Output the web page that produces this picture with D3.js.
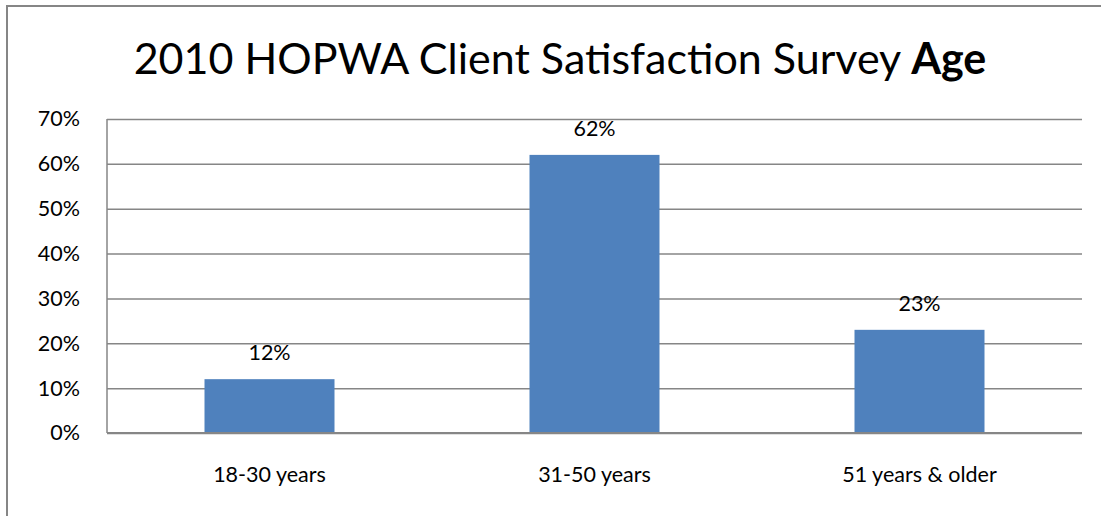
<!DOCTYPE html>
<html><head><meta charset="utf-8">
<script src="https://cdn.jsdelivr.net/npm/d3@7"></script>
<style>body{margin:0;background:#fff;} svg{display:block;font-family:Lato,"Open Sans",sans-serif;}</style>
</head><body>
<svg id="c" width="1101" height="516"></svg>
<script>
const categories = ["18-30 years", "31-50 years", "51 years & older"];
const values = [0.12, 0.62, 0.23];
const yTicks = [0, 0.1, 0.2, 0.3, 0.4, 0.5, 0.6, 0.7];

const svg = d3.select("#c");
const m = {left: 107, right: 1082, top: 119, bottom: 433};
const F = "Lato,'Open Sans',sans-serif";

svg.append("rect").attr("x", 7).attr("y", 6).attr("width", 1110).attr("height", 530)
  .attr("fill", "#fff").attr("stroke", "#868686").attr("stroke-width", 2);

const title = svg.append("text").attr("x", 560).attr("y", 74).attr("text-anchor", "middle")
  .attr("font-size", 43).attr("fill", "#000");
title.append("tspan").text("2010 HOPWA Client Satisfaction Survey ");
title.append("tspan").attr("font-weight", "bold").text("Age");

const x = d3.scaleBand().domain(categories).range([m.left, m.right]).paddingInner(0.6).paddingOuter(0.3);
const y = d3.scaleLinear().domain([0, 0.7]).range([m.bottom, m.top]);

const yAxis = svg.append("g").attr("transform", `translate(${m.left},0)`)
  .call(d3.axisLeft(y).tickValues(yTicks).tickFormat(d3.format(".0%")).tickSize(-(m.right - m.left)).tickPadding(27));
yAxis.select(".domain").remove();
yAxis.selectAll(".tick line").attr("stroke", "#868686").attr("stroke-width", 1.5);
yAxis.selectAll("text").attr("font-size", 21.5).attr("fill", "#000").attr("font-family", F);

svg.append("line").attr("x1", m.left).attr("x2", m.left).attr("y1", m.top).attr("y2", m.bottom)
  .attr("stroke", "#868686").attr("stroke-width", 1.5);

svg.selectAll(".bar").data(values).join("rect").attr("class", "bar")
  .attr("x", (d, i) => x(categories[i])).attr("width", x.bandwidth())
  .attr("y", d => y(d)).attr("height", d => y(0) - y(d)).attr("fill", "#4F81BD");

svg.append("line").attr("x1", m.left).attr("x2", m.right).attr("y1", m.bottom).attr("y2", m.bottom)
  .attr("stroke", "#868686").attr("stroke-width", 2);

svg.selectAll(".lbl").data(values).join("text").attr("class", "lbl")
  .attr("x", (d, i) => x(categories[i]) + x.bandwidth() / 2).attr("y", d => y(d) - 19)
  .attr("text-anchor", "middle").attr("font-size", 21.5).attr("fill", "#000")
  .text(d => d3.format(".0%")(d));

const xAxis = svg.append("g").attr("transform", `translate(0,${m.bottom})`)
  .call(d3.axisBottom(x).tickSize(0).tickPadding(34));
xAxis.select(".domain").remove();
xAxis.selectAll("text").attr("font-size", 21.5).attr("fill", "#000").attr("font-family", F);
</script>
</body></html>
